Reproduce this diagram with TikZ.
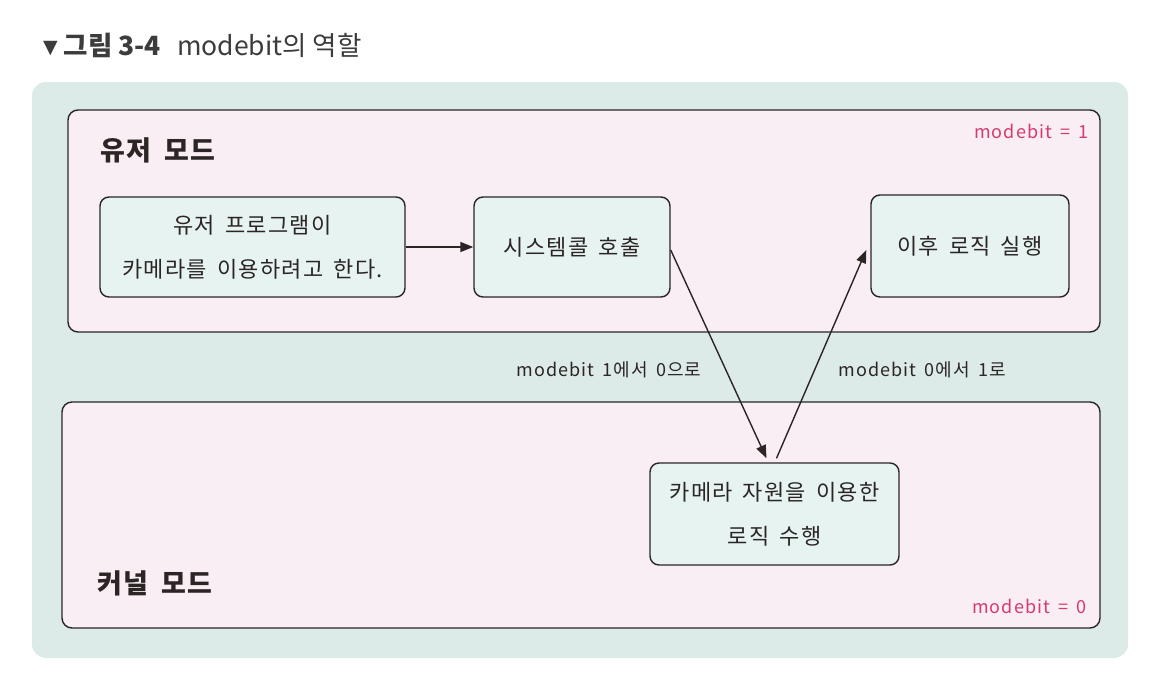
\documentclass[tikz,border=0pt]{standalone}
\usepackage{fontspec}
\setmainfont{Noto Sans CJK KR}
\newfontfamily\hand[LetterSpace=6,WordSpace=1.6]{Noto Sans CJK KR}
\usetikzlibrary{arrows.meta,calc}
\definecolor{panel}{HTML}{DCEBE8}
\definecolor{modefill}{HTML}{F9EEF3}
\definecolor{nodefill}{HTML}{E6F3F1}
\definecolor{pinktxt}{HTML}{D63A6E}
\definecolor{inkc}{HTML}{2B2526}
\definecolor{titlec}{HTML}{3C3C3C}
\tikzset{
  modebox/.style={draw=inkc, line width=1.4pt, fill=modefill, rounded corners=10pt},
  stepbox/.style={draw=inkc, line width=1.4pt, fill=nodefill, rounded corners=9pt, align=center, text=inkc, font=\hand\fontsize{22}{44}\selectfont},
  modelabel/.style={text=inkc, font=\hand\bfseries\fontsize{27}{30}\selectfont, anchor=center},
  bitlabel/.style={text=pinktxt, font=\hand\fontsize{18}{20}\selectfont},
  edgelabel/.style={text=inkc, font=\hand\fontsize{18}{20}\selectfont},
  conn/.style={draw=inkc, line width=1.4pt, -{Triangle[length=13pt,width=10pt]}}
}
\begin{document}
\begin{tikzpicture}[x=1pt,y=-1pt]
\useasboundingbox (0,0) rectangle (1159,688);
\fill[white] (0,0) rectangle (1159,688);
% title
\node[anchor=west, text=titlec, inner sep=0] (title) at (43,45)
  {\fontsize{19}{20}\selectfont\raisebox{2pt}{\fontspec{DejaVu Sans}▼}\hspace{6pt}\fontsize{26.5}{28}\selectfont\textbf{그림 3-4}\hspace{16pt}modebit의 역할};
% outer panel
\fill[panel, rounded corners=14pt] (32,82) rectangle (1128,658);
% mode boxes
\draw[modebox] (68,110) rectangle (1100,332);
\draw[modebox] (62,402) rectangle (1100,628);
\node[modelabel] (user) at (158,150) {유저 모드};
\node[modelabel] (kernel) at (155,583) {커널 모드};
\node[bitlabel, anchor=east] (bit1) at (1092,131) {modebit = 1};
\node[bitlabel, anchor=east] (bit0) at (1090,606) {modebit = 0};
% step boxes
\node[stepbox, minimum width=305pt, minimum height=100pt] (a) at (252.5,247) {유저 프로그램이\\카메라를 이용하려고 한다.};
\node[stepbox, minimum width=196pt, minimum height=100pt] (b) at (572,247) {시스템콜 호출};
\node[stepbox, minimum width=198pt, minimum height=102pt] (c) at (970,246) {이후 로직 실행};
\node[stepbox, minimum width=249pt, minimum height=102pt] (d) at (774.5,514) {카메라 자원을 이용한\\로직 수행};
% connectors
\draw[conn] (a.east) -- (b.west);
\draw[conn] ($(b.east)+(0,3)$) -- ($(d.north)+(-8,-4)$);
\draw[conn] ($(d.north)+(2,-4)$) -- ($(c.west)+(-4,4)$);
% edge labels
\node[edgelabel] (l1) at (609,370) {modebit 1에서 0으로};
\node[edgelabel] (l2) at (922,370) {modebit 0에서 1로};
\end{tikzpicture}
\end{document}
